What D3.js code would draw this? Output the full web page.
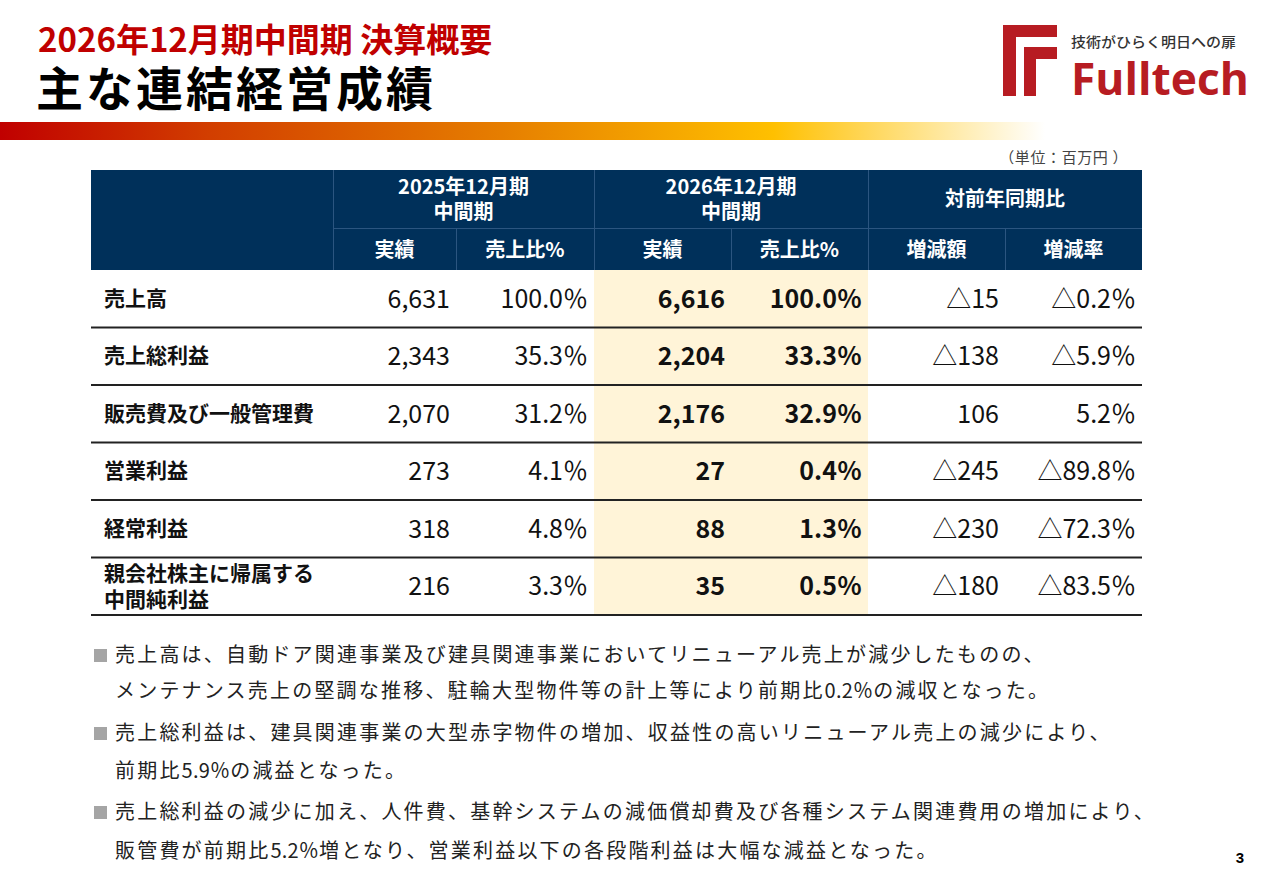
<!DOCTYPE html>
<html><head><meta charset="utf-8">
<script src="https://cdn.jsdelivr.net/npm/d3@7"></script>
<style>
html,body{margin:0;padding:0;background:#fff;}
svg{display:block;font-family:"Noto Sans CJK JP","Noto Sans",sans-serif;}
</style></head>
<body>
<svg id="c" width="1280" height="886"></svg>
<script>
// ---- data ----
const categories = ["売上高","売上総利益","販売費及び一般管理費","営業利益","経常利益","親会社株主に帰属する\n中間純利益"];
const prevActual = [6631,2343,2070,273,318,216];
const prevRatio  = [100.0,35.3,31.2,4.1,4.8,3.3];
const currActual = [6616,2204,2176,27,88,35];
const currRatio  = [100.0,33.3,32.9,0.4,1.3,0.5];
const diffAmount = [-15,-138,106,-245,-230,-180];
const diffRate   = [-0.2,-5.9,5.2,-89.8,-72.3,-83.5];
const groupHeaders = [["2025年12月期","中間期"],["2026年12月期","中間期"],["対前年同期比"]];
const subHeaders = ["実績","売上比%","実績","売上比%","増減額","増減率"];
const bullets = [
  ["売上高は、自動ドア関連事業及び建具関連事業においてリニューアル売上が減少したものの、","メンテナンス売上の堅調な推移、駐輪大型物件等の計上等により前期比0.2％の減収となった。"],
  ["売上総利益は、建具関連事業の大型赤字物件の増加、収益性の高いリニューアル売上の減少により、","前期比5.9％の減益となった。"],
  ["売上総利益の減少に加え、人件費、基幹システムの減価償却費及び各種システム関連費用の増加により、","販管費が前期比5.2％増となり、営業利益以下の各段階利益は大幅な減益となった。"]
];
const titleTop = "2026年12月期中間期 決算概要";
const titleMain = "主な連結経営成績";
const unitLabel = "（単位：百万円 ）";
const pageNo = "3";

// ---- layout ----
const svg = d3.select("#c");
const NAVY = "#00305a", RED = "#c00000";
const edges = [91,333,456,594,731,868,1005,1142];
const colR = i => edges[i+2];
const headerTop = 170, headerMid = 228, headerBot = 270, tableBot = 615;
const y = d3.scaleBand().domain(categories).range([headerBot, tableBot]);

// gradient bar
const defs = svg.append("defs");
const g = defs.append("linearGradient").attr("id","bar").attr("x1","0").attr("x2","1");
[[0,"#c00000"],[0.2,"#d23e00"],[0.48,"#e67e00"],[0.74,"#ffc000"],[0.88,"#ffe38a"],[1,"#ffffff"]]
  .forEach(([o,c])=>g.append("stop").attr("offset",o).attr("stop-color",c));
svg.append("rect").attr("x",0).attr("y",122).attr("width",1045).attr("height",18).attr("fill","url(#bar)");

// titles
svg.append("text").attr("x",38).attr("y",52).attr("font-size",33).attr("font-weight",700)
  .attr("fill",RED).text(titleTop);
svg.append("text").attr("x",36).attr("y",106).attr("font-size",47).attr("font-weight",700)
  .attr("fill","#000").attr("letter-spacing",3).text(titleMain);

// logo
const LRED = "#b71c22";
const logo = svg.append("g");
logo.append("path").attr("fill",LRED)
  .attr("d","M1003,25H1057V37H1016V96H1003Z M1024,47H1057V59H1036V96H1024Z");
logo.append("text").attr("x",1071).attr("y",47).attr("font-size",14).attr("font-weight",500)
  .attr("fill","#333").attr("textLength",165).attr("lengthAdjust","spacingAndGlyphs").text("技術がひらく明日への扉");
logo.append("text").attr("x",1071).attr("y",95).attr("font-size",45).attr("font-weight",700)
  .attr("font-family","'Open Sans','Noto Sans',sans-serif")
  .attr("fill",LRED).attr("textLength",178).attr("lengthAdjust","spacingAndGlyphs").text("Fulltech");

// unit label
svg.append("text").attr("x",1128).attr("y",163).attr("font-size",15).attr("fill","#444")
  .attr("letter-spacing",0.6).attr("text-anchor","end").text(unitLabel);

// header
svg.append("rect").attr("x",edges[0]).attr("y",headerTop).attr("width",edges[7]-edges[0])
  .attr("height",headerBot-headerTop).attr("fill",NAVY);
const hl = svg.append("g").attr("stroke","#2b5580").attr("stroke-width",1);
[333,594,868].forEach(x=>hl.append("line").attr("x1",x+0.5).attr("x2",x+0.5).attr("y1",headerTop).attr("y2",headerBot));
[456,731,1005].forEach(x=>hl.append("line").attr("x1",x+0.5).attr("x2",x+0.5).attr("y1",headerMid).attr("y2",headerBot));
hl.append("line").attr("x1",333).attr("x2",1142).attr("y1",headerMid+0.5).attr("y2",headerMid+0.5);

const gCenters = [(edges[1]+edges[3])/2,(edges[3]+edges[5])/2,(edges[5]+edges[7])/2];
groupHeaders.forEach((lines,i)=>{
  if(lines.length===2){
    lines.forEach((ln,k)=>{
      svg.append("text").attr("x",gCenters[i]).attr("y",194+k*25).attr("font-size",20).attr("font-weight",700)
        .attr("fill","#fff").attr("text-anchor","middle").text(ln);
    });
  } else {
    svg.append("text").attr("x",gCenters[i]).attr("y",206).attr("font-size",20).attr("font-weight",700)
      .attr("fill","#fff").attr("text-anchor","middle").text(lines[0]);
  }
});
subHeaders.forEach((s,i)=>{
  svg.append("text").attr("x",(edges[i+1]+edges[i+2])/2).attr("y",257).attr("font-size",20)
    .attr("font-weight",700).attr("fill","#fff").attr("text-anchor","middle").text(s);
});

// highlight
svg.append("rect").attr("x",edges[3]).attr("y",headerBot).attr("width",edges[5]-edges[3])
  .attr("height",tableBot-headerBot).attr("fill","#fff4d8");

// rows
const fmtN = d3.format(",");
const sign = (v,f)=> v<0 ? "△"+f(-v) : f(v);
const fmtP = v => d3.format(".1f")(v)+"％";
const cols = [
  {vals:prevActual, f:v=>fmtN(v), bold:false},
  {vals:prevRatio, f:fmtP, bold:false},
  {vals:currActual, f:v=>fmtN(v), bold:true},
  {vals:currRatio, f:fmtP, bold:true},
  {vals:diffAmount, f:v=>sign(v,fmtN), bold:false},
  {vals:diffRate, f:v=>sign(v,fmtP), bold:false}
];
categories.forEach((c,r)=>{
  const cy = y(c)+y.bandwidth()/2;
  const parts = c.split("\n");
  parts.forEach((p,k)=>{
    const yy = parts.length===1 ? cy+7 : cy-5+k*26;
    svg.append("text").attr("x",104).attr("y",yy).attr("font-size",21).attr("font-weight",700)
      .attr("fill","#111").text(p);
  });
  cols.forEach((col,i)=>{
    svg.append("text").attr("x",colR(i)-6).attr("y",cy+9).attr("text-anchor","end")
      .attr("font-size",25).attr("font-weight",col.bold?700:400).attr("fill","#111")
      .text(col.f(col.vals[r]));
  });
  svg.append("line").attr("x1",edges[0]).attr("x2",edges[7]).attr("y1",y(c)+y.bandwidth())
    .attr("y2",y(c)+y.bandwidth()).attr("stroke","#222").attr("stroke-width",2);
});

// bullets
const lineY = [655,691,733,771,812,851];
let li = 0;
bullets.forEach(b=>{
  svg.append("rect").attr("x",94).attr("y",lineY[li]-6).attr("width",13).attr("height",13).attr("fill","#a5a5a5");
  b.forEach(line=>{
    const t = svg.append("text").attr("x",115).attr("y",lineY[li]+7).attr("font-size",20).attr("fill","#222");
    const runs = line.match(/[0-9.]+|％|[^0-9.％]+/g);
    runs.forEach(run=>{
      const ls = /^[0-9.]+$/.test(run) ? 0.2 : (run==="％" ? 0.2 : 2.2);
      t.append("tspan").attr("letter-spacing",ls).text(run);
    });
    li++;
  });
});

// page number
svg.append("text").attr("x",1240).attr("y",863).attr("font-size",15).attr("font-weight",700)
  .attr("font-family","'Liberation Sans',Arial,sans-serif").attr("text-anchor","middle").text(pageNo);
</script>
</body></html>
